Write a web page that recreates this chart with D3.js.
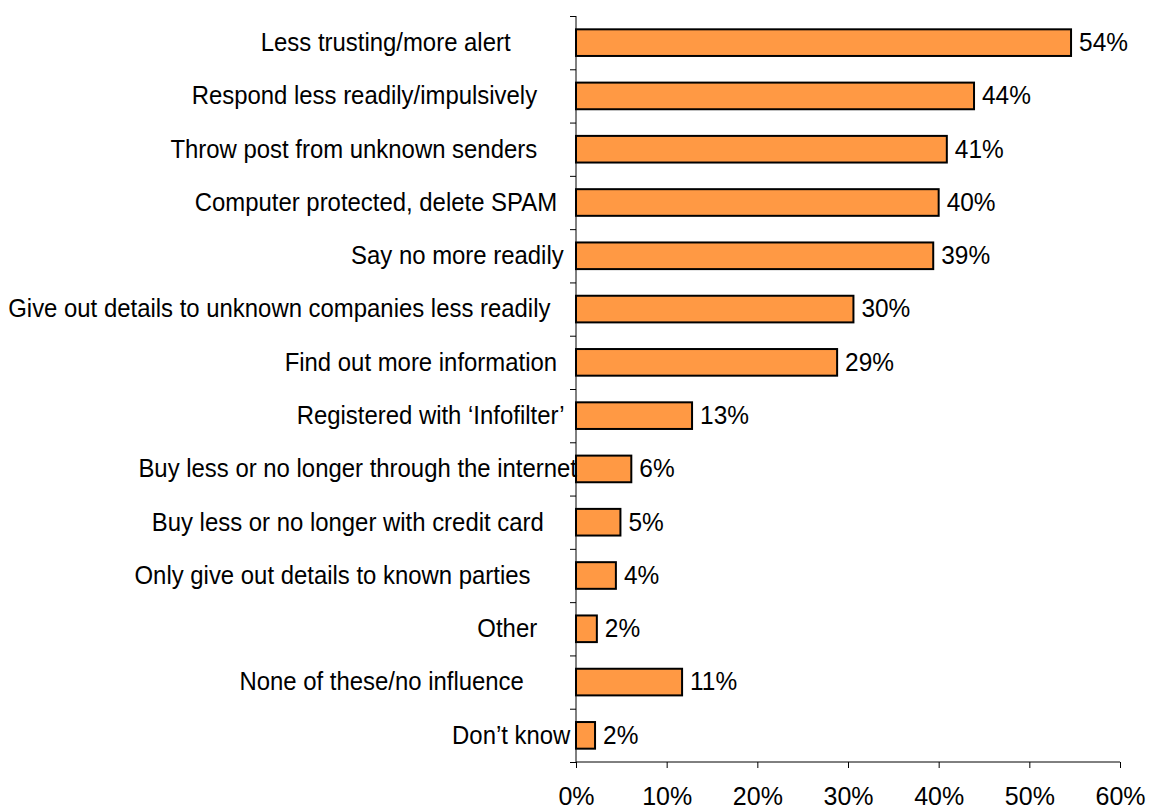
<!DOCTYPE html>
<html><head><meta charset="utf-8">
<script src="https://cdn.jsdelivr.net/npm/d3@7"></script>
<style>body{margin:0;background:#fff}text{white-space:pre}</style>
</head><body>
<svg id="c" width="1149" height="810"></svg>
<script>
const categories = [
  "Less trusting/more alert          ",
  "Respond less readily/impulsively      ",
  "Throw post from unknown senders      ",
  "Computer protected, delete SPAM   ",
  "Say no more readily  ",
  "Give out details to unknown companies less readily    ",
  "Find out more information   ",
  "Registered with \u2018Infofilter\u2019  ",
  "Buy less or no longer through the internet",
  "Buy less or no longer with credit card     ",
  "Only give out details to known parties       ",
  "Other      ",
  "None of these/no influence        ",
  "Don\u2019t know "
];
const values = [54.6, 43.9, 40.9, 40.0, 39.4, 30.6, 28.8, 12.8, 6.1, 4.9, 4.4, 2.3, 11.7, 2.1];
const valueLabels = ["54%","44%","41%","40%","39%","30%","29%","13%","6%","5%","4%","2%","11%","2%"];
const xTicks = [0,10,20,30,40,50,60];

const svg = d3.select("#c");
const font = "'Liberation Sans', Arial, sans-serif";
const sx = 0.92;
const x = d3.scaleLinear().domain([0,60]).range([576,1120]);
const y = d3.scaleBand().domain(d3.range(categories.length)).range([16,762]).paddingInner(0.5).paddingOuter(0.25);

// bars
svg.selectAll("rect.bar").data(values).join("rect")
  .attr("x", x(0)).attr("y", (d,i)=>y(i))
  .attr("width", d=>x(d)-x(0)).attr("height", y.bandwidth())
  .attr("fill", "#FF9944").attr("stroke", "#000").attr("stroke-width", 2);

// value labels
svg.selectAll("text.val").data(values).join("text")
  .attr("transform", (d,i)=>`translate(${x(d)+8},${y(i)+y.bandwidth()/2}) scale(0.94,1)`)
  .attr("dy","0.32em").attr("font-family",font).attr("font-size",26).attr("fill","#000")
  .text((d,i)=>valueLabels[i]);

// y axis
const yl = d3.scaleLinear().domain([0,categories.length]).range([16,762]);
const gy = svg.append("g").attr("transform","translate(576,0)")
  .call(d3.axisLeft(yl).tickValues(d3.range(categories.length+1)).tickSize(6).tickFormat(""));
gy.selectAll("line,path").attr("stroke","#000");
gy.select(".domain").attr("d","M0,16V762");

// category labels
svg.selectAll("text.cat").data(categories).join("text")
  .attr("transform",(d,i)=>`translate(577,${y(i)+y.bandwidth()/2}) scale(${sx},1)`)
  .attr("dy","0.32em")
  .attr("text-anchor","end").attr("font-family",font).attr("font-size",26).attr("fill","#000")
  .text(d=>d);

// x axis
const gx = svg.append("g").attr("transform","translate(0,762)")
  .call(d3.axisBottom(x).tickValues(xTicks).tickSize(6).tickPadding(19).tickFormat(d=>d+"%"));
gx.select(".domain").attr("d","M576,0H1120").attr("stroke","#000");
gx.selectAll("line").attr("stroke","#000");
gx.selectAll("text").attr("font-family",font).attr("font-size",25).attr("fill","#000");
</script>
</body></html>
